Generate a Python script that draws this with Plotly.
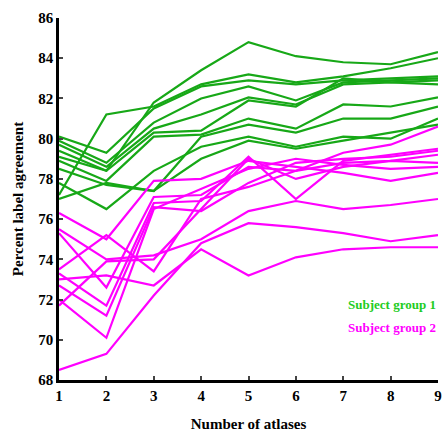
import plotly.graph_objects as go

atlases = [1, 2, 3, 4, 5, 6, 7, 8, 9]

group1 = [
    [79.1, 78.4, 81.8, 83.4, 84.8, 84.1, 83.8, 83.7, 84.3],
    [77.2, 81.2, 81.6, 82.7, 83.2, 82.8, 83.1, 83.5, 84.0],
    [80.1, 79.3, 81.5, 82.6, 82.9, 82.7, 82.9, 83.0, 83.1],
    [79.9, 78.8, 80.8, 82.0, 82.6, 81.9, 82.8, 82.9, 83.0],
    [79.7, 78.6, 80.5, 81.2, 82.05, 81.7, 82.7, 82.8, 82.9],
    [79.4, 78.4, 80.3, 80.4, 81.9, 81.6, 83.0, 82.8, 82.7],
    [78.9, 77.9, 80.1, 80.2, 81.0, 80.5, 81.7, 81.6, 82.05],
    [78.5, 77.7, 77.4, 80.1, 80.7, 80.3, 81.0, 81.0, 81.6],
    [77.8, 76.5, 78.4, 79.6, 80.1, 79.6, 80.1, 80.0, 81.0],
    [77.0, 77.8, 77.4, 79.0, 79.9, 79.5, 79.9, 80.3, 80.7],
]

group2 = [
    [68.5, 69.3, 72.2, 74.8, 75.8, 75.6, 75.3, 74.9, 75.2],
    [73.0, 73.2, 72.7, 74.5, 73.2, 74.1, 74.5, 74.6, 74.6],
    [75.5, 74.0, 74.2, 75.0, 76.4, 76.9, 76.5, 76.7, 77.0],
    [76.3, 75.0, 77.9, 78.0, 78.9, 78.6, 78.3, 77.9, 78.3],
    [75.3, 72.6, 77.1, 77.2, 78.6, 78.4, 78.8, 78.9, 79.2],
    [73.3, 71.7, 76.8, 76.9, 79.1, 77.0, 78.9, 79.2, 79.5],
    [72.7, 71.2, 76.6, 76.4, 77.8, 78.8, 79.0, 79.1, 79.4],
    [72.0, 70.1, 76.5, 77.5, 78.5, 79.0, 78.7, 78.5, 78.6],
    [71.7, 73.9, 74.0, 76.5, 79.0, 78.0, 78.6, 78.9, 78.8],
    [73.5, 75.2, 73.4, 77.0, 77.6, 78.4, 79.3, 79.7, 80.6],
]

group_names = ["Subject group 1", "Subject group 2"]
green = "#17a817"
magenta = "#ff00ff"

fig = go.Figure()
for ys in group1:
    fig.add_trace(go.Scatter(x=atlases, y=ys, mode="lines",
                             line=dict(color=green, width=2.2), showlegend=False))
for ys in group2:
    fig.add_trace(go.Scatter(x=atlases, y=ys, mode="lines",
                             line=dict(color=magenta, width=2.2), showlegend=False))

tfont = dict(family="Liberation Serif", size=15, color="black", weight="bold")

fig.add_annotation(x=1, y=0.208, xref="paper", yref="paper", text=group_names[0],
                   showarrow=False, xanchor="right", yanchor="middle",
                   font=dict(family="Liberation Serif", size=13, color="#22cc22", weight="bold"))
fig.add_annotation(x=1, y=0.145, xref="paper", yref="paper", text=group_names[1],
                   showarrow=False, xanchor="right", yanchor="middle",
                   font=dict(family="Liberation Serif", size=13, color=magenta, weight="bold"))

fig.update_layout(
    width=448, height=436,
    margin=dict(l=59, r=6, t=18, b=53),
    plot_bgcolor="white", paper_bgcolor="white",
    xaxis=dict(range=[1, 9], tickvals=atlases, ticks="inside", ticklen=4, tickwidth=2,
               showline=True, linecolor="black", linewidth=2.5, showgrid=False,
               zeroline=False, tickfont=tfont, mirror=False,
               title=dict(text="Number of atlases", font=tfont, standoff=16)),
    yaxis=dict(range=[68, 86], tickvals=list(range(68, 87, 2)), ticks="inside",
               ticklen=4, tickwidth=2, showline=True, linecolor="black", linewidth=2.5,
               showgrid=False, zeroline=False, tickfont=tfont,
               title=dict(text="Percent label agreement", font=tfont, standoff=12)),
)

fig.write_html("out.html")
